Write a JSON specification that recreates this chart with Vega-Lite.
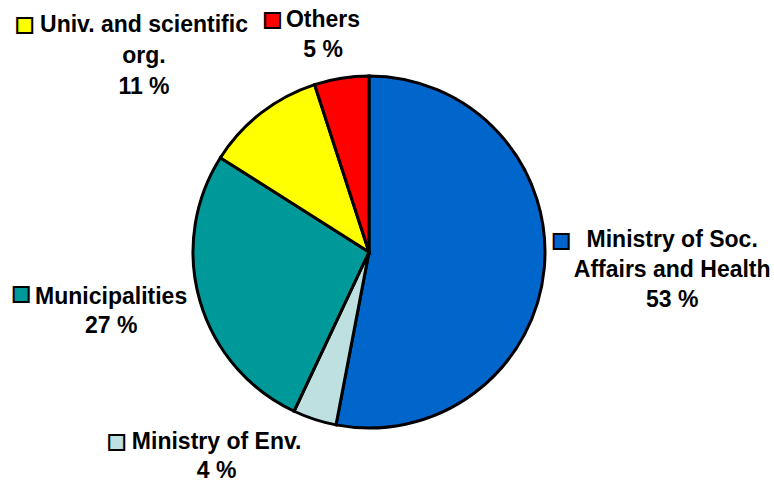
{
  "$schema": "https://vega.github.io/schema/vega-lite/v6.json",
  "width": 738,
  "height": 462,
  "autosize": {"type": "none"},
  "padding": {"left": 0, "top": 21, "right": 36, "bottom": 0},
  "background": "white",
  "config": {"view": {"stroke": null}, "text": {"font": "Liberation Sans"}},
  "data": {
    "values": [
      {"sector": "Ministry of Soc. Affairs and Health", "label": "Ministry of Soc.\nAffairs and Health\n53 %", "share": 53, "rank": 1},
      {"sector": "Ministry of Env.", "label": "Ministry of Env.\n4 %", "share": 4, "rank": 2},
      {"sector": "Municipalities", "label": "Municipalities\n27 %", "share": 27, "rank": 3},
      {"sector": "Univ. and scientific org.", "label": "Univ. and scientific\norg.\n11 %", "share": 11, "rank": 4},
      {"sector": "Others", "label": "Others\n5 %", "share": 5, "rank": 5}
    ]
  },
  "encoding": {
    "theta": {"field": "share", "type": "quantitative", "stack": true},
    "order": {"field": "rank", "type": "quantitative"},
    "color": {
      "field": "sector",
      "type": "nominal",
      "legend": null,
      "scale": {
        "domain": ["Ministry of Soc. Affairs and Health", "Ministry of Env.", "Municipalities", "Univ. and scientific org.", "Others"],
        "range": ["#0066cc", "#bfe0e0", "#009999", "#ffff00", "#ff0000"]
      }
    }
  },
  "layer": [
    {"mark": {"type": "arc", "outerRadius": 176, "stroke": "black", "strokeWidth": 3}},
    {
      "mark": {"type": "text", "radius": 298.5, "dx": 6, "dy": -40, "fontSize": 23, "fontWeight": "bold", "lineBreak": "\n", "lineHeight": 30, "align": "center", "baseline": "middle"},
      "encoding": {"text": {"condition": {"test": "datum.rank === 1", "field": "label"}, "value": ""}, "color": {"value": "black"}}
    },
    {
      "mark": {"type": "text", "radius": 227.7, "dx": -82, "dy": -26.5, "fontSize": 23, "fontWeight": "bold", "lineBreak": "\n", "lineHeight": 29, "align": "center", "baseline": "middle"},
      "encoding": {"text": {"condition": {"test": "datum.rank === 2", "field": "label"}, "value": ""}, "color": {"value": "black"}}
    },
    {
      "mark": {"type": "text", "radius": 260.2, "dx": -8, "dy": -27.6, "fontSize": 23, "fontWeight": "bold", "lineBreak": "\n", "lineHeight": 29, "align": "center", "baseline": "middle"},
      "encoding": {"text": {"condition": {"test": "datum.rank === 3", "field": "label"}, "value": ""}, "color": {"value": "black"}}
    },
    {
      "mark": {"type": "text", "radius": 317.2, "dx": -30.6, "dy": 23.6, "fontSize": 23, "fontWeight": "bold", "lineBreak": "\n", "lineHeight": 31, "align": "center", "baseline": "middle"},
      "encoding": {"text": {"condition": {"test": "datum.rank === 4", "field": "label"}, "value": ""}, "color": {"value": "black"}}
    },
    {
      "mark": {"type": "text", "radius": 236.4, "dx": -9, "dy": 1.6, "fontSize": 23, "fontWeight": "bold", "lineBreak": "\n", "lineHeight": 30, "align": "center", "baseline": "middle"},
      "encoding": {"text": {"condition": {"test": "datum.rank === 5", "field": "label"}, "value": ""}, "color": {"value": "black"}}
    },
    {
      "mark": {"type": "text", "radius": 298.5, "dx": -105, "dy": -38.4, "fontSize": 31, "align": "center", "baseline": "middle", "stroke": "black", "strokeWidth": 2},
      "encoding": {"text": {"condition": {"test": "datum.rank === 1", "value": "■"}, "value": ""}}
    },
    {
      "mark": {"type": "text", "radius": 227.7, "dx": -182, "dy": -25.8, "fontSize": 31, "align": "center", "baseline": "middle", "stroke": "black", "strokeWidth": 2},
      "encoding": {"text": {"condition": {"test": "datum.rank === 2", "value": "■"}, "value": ""}}
    },
    {
      "mark": {"type": "text", "radius": 260.2, "dx": -98, "dy": -29.3, "fontSize": 31, "align": "center", "baseline": "middle", "stroke": "black", "strokeWidth": 2},
      "encoding": {"text": {"condition": {"test": "datum.rank === 3", "value": "■"}, "value": ""}}
    },
    {
      "mark": {"type": "text", "radius": 317.2, "dx": -150.1, "dy": 24.9, "fontSize": 31, "align": "center", "baseline": "middle", "stroke": "black", "strokeWidth": 2},
      "encoding": {"text": {"condition": {"test": "datum.rank === 4", "value": "■"}, "value": ""}}
    },
    {
      "mark": {"type": "text", "radius": 236.4, "dx": -59.6, "dy": 2.1, "fontSize": 31, "align": "center", "baseline": "middle", "stroke": "black", "strokeWidth": 2},
      "encoding": {"text": {"condition": {"test": "datum.rank === 5", "value": "■"}, "value": ""}}
    }
  ]
}
